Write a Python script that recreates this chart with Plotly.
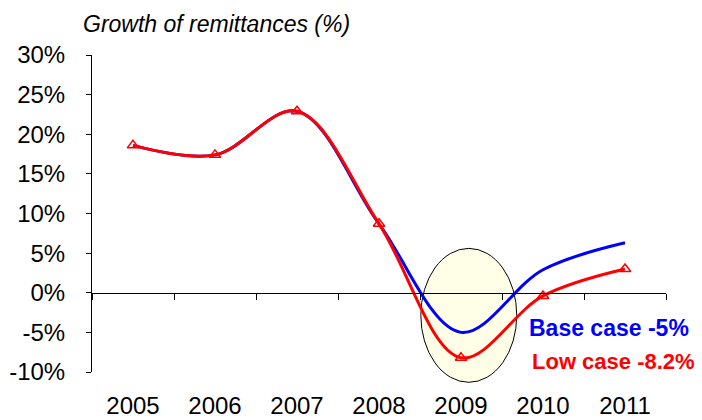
import plotly.graph_objects as go

years = ["2005", "2006", "2007", "2008", "2009", "2010", "2011"]
base_case = [18.6, 17.4, 22.9, 8.7, -5.0, 2.9, 6.3]
low_case = [18.6, 17.4, 22.9, 8.7, -8.2, -0.4, 3.0]
y_ticks = [-10, -5, 0, 5, 10, 15, 20, 25, 30]
y_tick_labels = [f"{v}%" for v in y_ticks]
title_text = "Growth of remittances (%)"
base_label = "Base case -5%"
low_label = "Low case -8.2%"

FONT = "Arial, Liberation Sans, sans-serif"
YMIN, YMAX = -10, 30
n = len(years)

fig = go.Figure()
fig.add_trace(go.Scatter(x=years, y=base_case, mode="lines",
                         line=dict(color="#0000FF", width=3, shape="spline", smoothing=1),
                         showlegend=False, hoverinfo="skip"))
fig.add_trace(go.Scatter(x=years, y=low_case, mode="lines+markers",
                         line=dict(color="#FF0000", width=3, shape="spline", smoothing=1),
                         marker=dict(symbol="triangle-up-open", size=10, color="#FF0000",
                                     line=dict(width=1.5, color="#FF0000")),
                         showlegend=False, hoverinfo="skip"))

# helper x-axis drawn along the 0% line with ticks at category boundaries
zero_pos = (0 - YMIN) / (YMAX - YMIN)
fig.add_trace(go.Scatter(x=[None], y=[None], xaxis="x2", showlegend=False, hoverinfo="skip"))

def px(idx):
    return (idx + 0.5) / n

def py(v):
    return (v - YMIN) / (YMAX - YMIN)

# highlight ellipse around 2009
i09 = years.index("2009")
fig.add_shape(type="circle", xref="paper", yref="paper",
              x0=px(i09 - 0.49), x1=px(i09 + 0.68),
              y0=py(-11.3), y1=py(5.6),
              line=dict(color="black", width=1), fillcolor="#FFFEE6", layer="below")

fig.add_annotation(x=i09 + 0.81, y=-4.4, xref="x", yref="y", text=base_label,
                   showarrow=False, xanchor="left", yanchor="middle",
                   font=dict(family=FONT, size=23, color="#0000FF", weight="bold"))
fig.add_annotation(x=i09 + 0.845, y=-8.7, xref="x", yref="y", text=low_label,
                   showarrow=False, xanchor="left", yanchor="middle",
                   font=dict(family=FONT, size=22, color="#FF0000", weight="bold"))

fig.update_layout(
    width=702, height=420,
    margin=dict(l=92, r=36, t=55, b=48, autoexpand=False),
    paper_bgcolor="white", plot_bgcolor="white",
    font=dict(family=FONT, size=24, color="black"),
    title=dict(text=f"<i>{title_text}</i>", x=83 / 702, xref="container", xanchor="left",
               y=1 - 24 / 420, yref="container", yanchor="middle",
               font=dict(family=FONT, size=23, color="black")),
    xaxis=dict(type="category", range=[-0.5, n - 0.5], showline=False, showgrid=False,
               zeroline=False, ticks="", ticklabelstandoff=17, automargin=False,
               tickfont=dict(family=FONT, size=24)),
    xaxis2=dict(overlaying="x", anchor="free", position=zero_pos, range=[-0.5, n - 0.5],
                showline=True, linecolor="black", linewidth=1, showgrid=False, zeroline=False,
                tickvals=[i - 0.5 for i in range(n + 1)], ticks="outside", ticklen=6,
                tickcolor="black", showticklabels=False, side="bottom", automargin=False),
    yaxis=dict(range=[YMIN, YMAX], tickvals=y_ticks, ticktext=y_tick_labels,
               showline=True, linecolor="black", linewidth=1, showgrid=False,
               zeroline=False, ticks="outside", ticklen=5, tickcolor="black",
               ticklabelstandoff=16, automargin=False, tickfont=dict(family=FONT, size=24)),
)

fig.write_html("out.html", config={"displayModeBar": False},
               post_script="document.body.style.margin='0';document.body.style.padding='0';")
